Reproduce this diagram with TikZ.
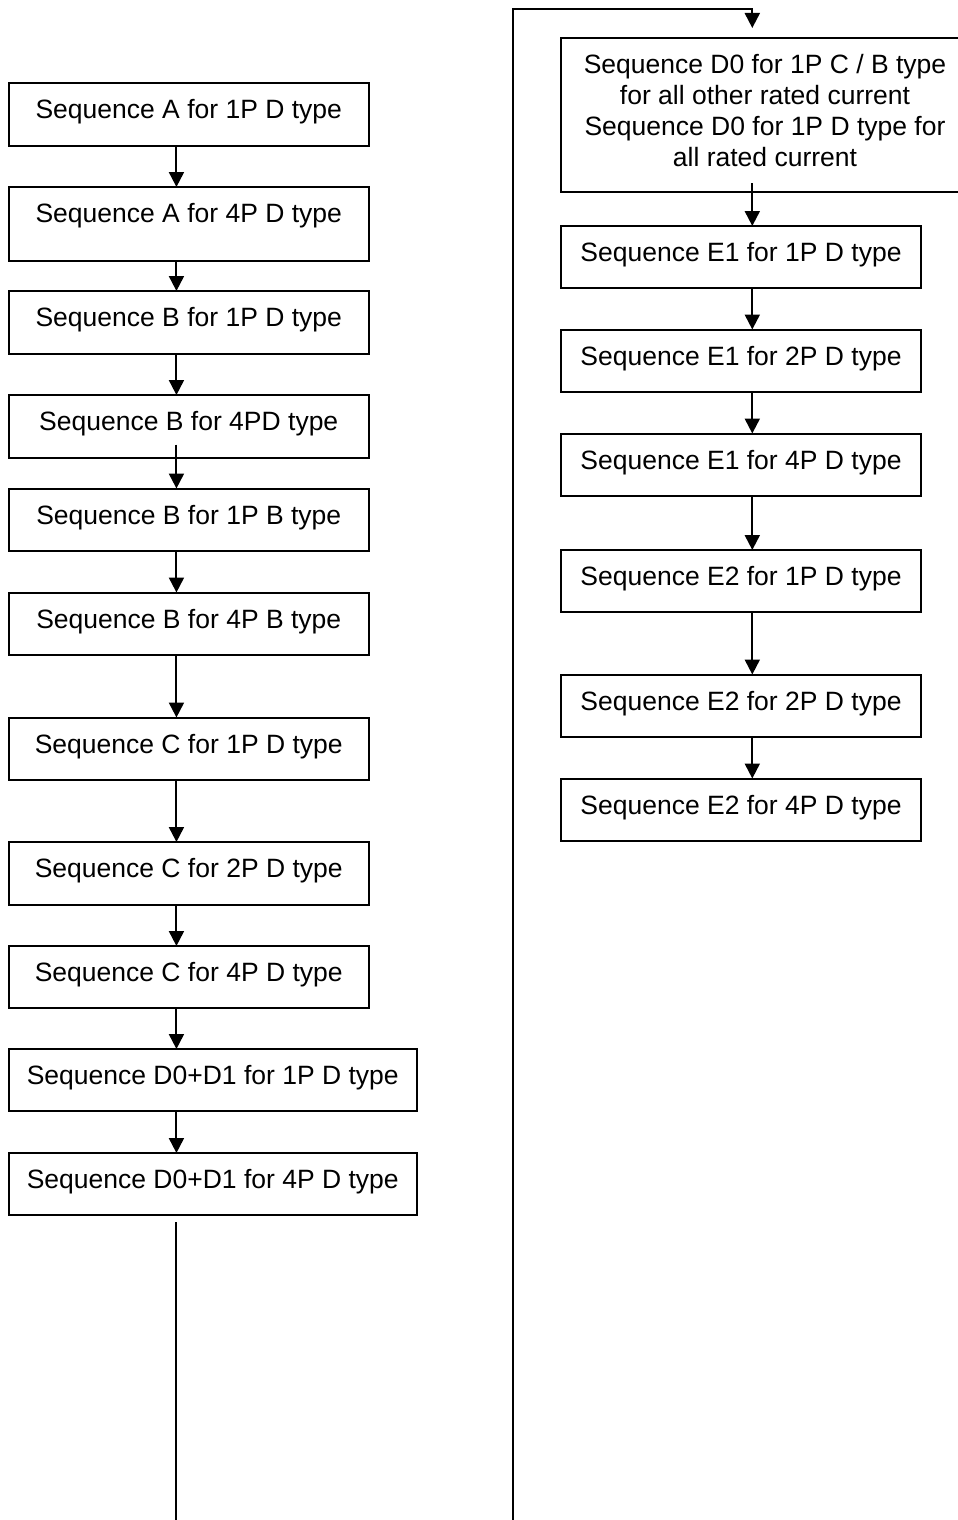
\documentclass[tikz,border=0pt]{standalone}
\usepackage{fontspec}
\setmainfont{Liberation Sans}
\usetikzlibrary{arrows.meta}
\newcommand{\bxtext}[3]{\parbox[c][#2][t]{#1}{\centering\rule{0pt}{35.5pt}#3}}
\tikzset{
  seqbox/.style={draw=black, line width=2pt, inner sep=0pt, outer sep=0pt, anchor=north west,
    font=\fontsize{26.5}{31}\selectfont},
  arr/.style={line width=2pt, -{Triangle[length=15pt,width=15pt]}},
  ln/.style={line width=2pt}
}
\begin{document}
\begin{tikzpicture}[x=1pt,y=-1pt]
\useasboundingbox (0,0) rectangle (958,1520);
% left column
\node[seqbox] (b1) at (8.5,83) {\bxtext{360.5pt}{62.5pt}{Sequence A for 1P D type}};
\node[seqbox] (b2) at (8.5,187) {\bxtext{360.5pt}{74pt}{Sequence A for 4P D type}};
\node[seqbox] (b3) at (8.5,291) {\bxtext{360.5pt}{62.5pt}{Sequence B for 1P D type}};
\node[seqbox] (b4) at (8.5,395) {\bxtext{360.5pt}{62.5pt}{Sequence B for 4PD type}};
\node[seqbox] (b5) at (8.5,488.5) {\bxtext{360.5pt}{62.5pt}{Sequence B for 1P B type}};
\node[seqbox] (b6) at (8.5,592.5) {\bxtext{360.5pt}{62.5pt}{Sequence B for 4P B type}};
\node[seqbox] (b7) at (8.5,717.5) {\bxtext{360.5pt}{62pt}{Sequence C for 1P D type}};
\node[seqbox] (b8) at (8.5,842) {\bxtext{360.5pt}{63pt}{Sequence C for 2P D type}};
\node[seqbox] (b9) at (8.5,946) {\bxtext{360.5pt}{62pt}{Sequence C for 4P D type}};
\node[seqbox] (b10) at (8.5,1049) {\bxtext{408.5pt}{62pt}{Sequence D0+D1 for 1P D type}};
\node[seqbox] (b11) at (8.5,1153) {\bxtext{408.5pt}{62pt}{Sequence D0+D1 for 4P D type}};
% right column
\node[seqbox] (d0) at (561,38) {\bxtext{408pt}{154pt}{Sequence D0 for 1P C / B type\\for all other rated current\\Sequence D0 for 1P D type for\\all rated current}};
\node[seqbox] (e1) at (561,226) {\bxtext{360pt}{61.5pt}{Sequence E1 for 1P D type}};
\node[seqbox] (e2) at (561,329.5) {\bxtext{360pt}{62pt}{Sequence E1 for 2P D type}};
\node[seqbox] (e3) at (561,433.5) {\bxtext{360pt}{62pt}{Sequence E1 for 4P D type}};
\node[seqbox] (e4) at (561,550) {\bxtext{360pt}{62pt}{Sequence E2 for 1P D type}};
\node[seqbox] (e5) at (561,674.5) {\bxtext{360pt}{62pt}{Sequence E2 for 2P D type}};
\node[seqbox] (e6) at (561,778.5) {\bxtext{360pt}{62.5pt}{Sequence E2 for 4P D type}};
% left connectors
\draw[arr] ([xshift=-12.3pt]b1.south) -- ([xshift=-12.3pt]b2.north);
\draw[arr] ([xshift=-12.3pt]b2.south) -- ([xshift=-12.3pt]b3.north);
\draw[arr] ([xshift=-12.3pt]b3.south) -- ([xshift=-12.3pt]b4.north);
\draw[arr] ([xshift=-12.3pt,yshift=13pt]b4.south) -- ([xshift=-12.3pt]b5.north);
\draw[arr] ([xshift=-12.3pt]b5.south) -- ([xshift=-12.3pt]b6.north);
\draw[arr] ([xshift=-12.3pt]b6.south) -- ([xshift=-12.3pt]b7.north);
\draw[arr] ([xshift=-12.3pt]b7.south) -- ([xshift=-12.3pt]b8.north);
\draw[arr] ([xshift=-12.3pt]b8.south) -- ([xshift=-12.3pt]b9.north);
\draw[arr] ([xshift=-12.3pt]b9.south) -- ([xshift=-36.3pt]b10.north);
\draw[arr] ([xshift=-36.3pt]b10.south) -- ([xshift=-36.3pt]b11.north);
% long return path
\coordinate (endL) at (176.45,1525);
\coordinate (startR) at (513,1525);
\coordinate (turn) at (752.3,9);
\draw[ln] ([xshift=-36.3pt,yshift=-7pt]b11.south) -- (endL);
\draw[arr] (startR) |- (turn) -- ([xshift=-12.7pt,yshift=10pt]d0.north);
% right connectors
\draw[arr] ([xshift=-12.7pt,yshift=9pt]d0.south) -- ([xshift=11.3pt]e1.north);
\draw[arr] ([xshift=11.3pt]e1.south) -- ([xshift=11.3pt]e2.north);
\draw[arr] ([xshift=11.3pt]e2.south) -- ([xshift=11.3pt]e3.north);
\draw[arr] ([xshift=11.3pt]e3.south) -- ([xshift=11.3pt]e4.north);
\draw[arr] ([xshift=11.3pt]e4.south) -- ([xshift=11.3pt]e5.north);
\draw[arr] ([xshift=11.3pt]e5.south) -- ([xshift=11.3pt]e6.north);
\end{tikzpicture}
\end{document}
